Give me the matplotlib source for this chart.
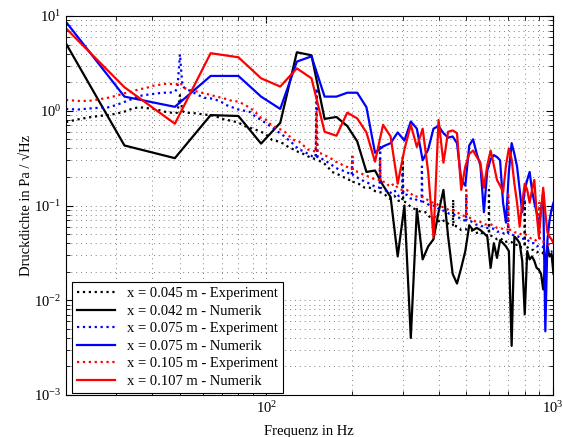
import numpy as np
import matplotlib
matplotlib.use("Agg")
import matplotlib.pyplot as plt

plt.rcParams["font.family"] = ["Liberation Serif", "DejaVu Serif"]
plt.rcParams["mathtext.fontset"] = "stix"
plt.rcParams["font.size"] = 10.5

# numerical results, 16 Hz bin spacing
f_num = 16 * np.arange(1, 64)
num_042 = [16.6, 0.43, 0.316, 0.9, 0.88, 0.45, 0.745, 4.14, 3.85, 0.82,
           0.86, 0.69, 0.475, 0.226, 0.234, 0.163, 0.123, 0.029, 0.1, 0.004,
           0.092, 0.027, 0.037, 0.044, 0.085, 0.146, 0.047, 0.019, 0.015, 0.022,
           0.033, 0.062, 0.055, 0.058, 0.055, 0.051, 0.047, 0.022, 0.04, 0.028,
           0.043, 0.04, 0.037, 0.033, 0.0033, 0.047, 0.044, 0.04, 0.026, 0.0071,
           0.033, 0.027, 0.029, 0.026, 0.022, 0.021, 0.019, 0.013, 0.026, 0.037,
           0.029, 0.031, 0.019]
num_075 = [20.5, 1.41, 1.1, 2.33, 2.33, 1.41, 1.045, 3.3, 3.75, 1.41,
           1.41, 1.55, 1.55, 1.09, 0.36, 0.42, 0.455, 0.59, 0.485, 0.77,
           0.647, 0.3, 0.39, 0.647, 0.69, 0.58, 0.52, 0.535, 0.455, 0.186,
           0.162, 0.43, 0.5, 0.35, 0.266, 0.085, 0.234, 0.308, 0.34, 0.325,
           0.3, 0.107, 0.066, 0.226, 0.455, 0.35, 0.258, 0.146, 0.085, 0.146,
           0.186, 0.226, 0.146, 0.107, 0.085, 0.06, 0.092, 0.138, 0.0047, 0.043,
           0.069, 0.09, 0.107]
num_107 = [14.6, 1.77, 0.73, 4.05, 3.67, 2.2, 1.8, 2.8, 2.2, 0.6,
           0.545, 0.955, 0.83, 0.59, 0.29, 0.71, 0.535, 0.17, 0.39, 0.71,
           0.415, 0.647, 0.226, 0.046, 0.8, 0.283, 0.6, 0.62, 0.58, 0.146,
           0.258, 0.35, 0.38, 0.325, 0.283, 0.154, 0.266, 0.38, 0.266, 0.186,
           0.162, 0.138, 0.266, 0.4, 0.308, 0.17, 0.107, 0.06, 0.107, 0.17,
           0.146, 0.107, 0.146, 0.186, 0.085, 0.047, 0.085, 0.154, 0.085, 0.052,
           0.047, 0.044, 0.04]

# measured spectra
f_exp = [20, 22, 24, 26, 28, 30, 32, 34, 36, 38, 40, 42, 44, 46, 48,
         49, 50, 51, 52,
         55, 58, 61, 64, 67, 70, 73, 76,
         80, 84, 88, 92, 96, 100,
         105, 110, 115, 120, 125, 130, 135, 140, 145,
         149, 150, 151,
         155, 160, 165, 170, 175, 180, 185, 190, 195,
         199, 200, 201,
         210, 220, 230, 240,
         249, 250, 251,
         260, 270, 280, 290,
         299, 300, 301,
         310, 320, 330, 340,
         349, 350, 351,
         360, 375, 390, 405, 420, 435,
         449, 450, 451,
         465, 480,
         499, 500, 501,
         520, 540, 560, 580,
         599, 600, 601,
         620, 640, 660, 680,
         699, 700, 701,
         720, 740, 760, 780,
         799, 800, 801,
         820, 840, 860, 880,
         899, 900, 901,
         920, 940, 960, 980, 1000]
exp_045 = [0.76, 0.81, 0.85, 0.88, 0.9, 0.93, 0.98, 1.05, 1.09, 1.07, 1.05, 1.02, 0.98, 0.96, 0.94,
           0.96, 1.46, 1.0, 0.95,
           0.95, 0.93, 0.91, 0.9, 0.87, 0.82, 0.8, 0.78,
           0.75, 0.69, 0.66, 0.63, 0.6, 0.56,
           0.49, 0.475, 0.45, 0.41, 0.39, 0.365, 0.35, 0.33, 0.316,
           0.308, 0.735, 0.308,
           0.29, 0.275, 0.25, 0.226, 0.218, 0.21, 0.2, 0.195, 0.186,
           0.186, 0.186, 0.178,
           0.17, 0.155, 0.154, 0.142,
           0.138, 0.138, 0.138,
           0.13, 0.118, 0.127, 0.112,
           0.111, 0.325, 0.111,
           0.107, 0.096, 0.092, 0.088,
           0.085, 0.085, 0.085,
           0.085, 0.074, 0.075, 0.066, 0.07, 0.063,
           0.062, 0.115, 0.062,
           0.06, 0.055,
           0.056, 0.056, 0.056,
           0.055, 0.051, 0.053, 0.048,
           0.049, 0.146, 0.049,
           0.047, 0.044, 0.045, 0.041,
           0.042, 0.042, 0.042,
           0.041, 0.038, 0.039, 0.036,
           0.037, 0.115, 0.037,
           0.036, 0.034, 0.034, 0.032,
           0.033, 0.033, 0.033,
           0.032, 0.03, 0.031, 0.029, 0.029]
exp_075 = [1.045, 1.03, 1.055, 1.075, 1.085, 1.15, 1.24, 1.33, 1.43, 1.47, 1.5, 1.53, 1.55, 1.55, 1.59,
           1.73, 3.94, 1.83, 1.73,
           1.59, 1.46, 1.37, 1.35, 1.3, 1.23, 1.14, 1.09,
           1.03, 1.0, 0.97, 0.86, 0.8, 0.735,
           0.665, 0.6, 0.545, 0.49, 0.44, 0.39, 0.375, 0.35, 0.33,
           0.325, 1.73, 0.325,
           0.316, 0.3, 0.283, 0.266, 0.25, 0.24, 0.234, 0.226, 0.218,
           0.21, 0.308, 0.21,
           0.194, 0.18, 0.17, 0.158,
           0.154, 0.415, 0.154,
           0.146, 0.134, 0.146, 0.126,
           0.13, 0.226, 0.13,
           0.13, 0.118, 0.119, 0.11,
           0.111, 0.258, 0.111,
           0.107, 0.099, 0.1, 0.089, 0.088, 0.082,
           0.081, 0.081, 0.081,
           0.077, 0.071,
           0.069, 0.13, 0.069,
           0.068, 0.063, 0.062, 0.058,
           0.058, 0.058, 0.058,
           0.057, 0.053, 0.053, 0.05,
           0.051, 0.123, 0.051,
           0.05, 0.047, 0.047, 0.044,
           0.045, 0.045, 0.045,
           0.043, 0.04, 0.04, 0.037,
           0.038, 0.038, 0.038,
           0.037, 0.035, 0.035, 0.032, 0.033]
exp_105 = [1.3, 1.27, 1.27, 1.32, 1.37, 1.44, 1.53, 1.59, 1.69, 1.73, 1.83, 1.87, 1.92, 1.92, 1.92,
           1.92, 2.0, 1.83, 1.73,
           1.63, 1.59, 1.52, 1.47, 1.41, 1.37, 1.32, 1.27,
           1.25, 1.16, 1.07, 0.955, 0.84, 0.8,
           0.69, 0.647, 0.62, 0.545, 0.49, 0.475, 0.43, 0.39, 0.38,
           0.37, 1.0, 0.36,
           0.355, 0.34, 0.325, 0.308, 0.29, 0.283, 0.266, 0.258, 0.25,
           0.242, 0.35, 0.234,
           0.226, 0.21, 0.2, 0.188,
           0.186, 0.308, 0.178,
           0.178, 0.158, 0.17, 0.15,
           0.146, 0.146, 0.146,
           0.146, 0.134, 0.123, 0.126,
           0.123, 0.123, 0.123,
           0.119, 0.108, 0.107, 0.097, 0.096, 0.089,
           0.088, 0.088, 0.088,
           0.085, 0.079,
           0.077, 0.146, 0.077,
           0.073, 0.067, 0.067, 0.063,
           0.064, 0.064, 0.064,
           0.062, 0.058, 0.058, 0.055,
           0.056, 0.138, 0.056,
           0.055, 0.052, 0.052, 0.049,
           0.05, 0.05, 0.05,
           0.048, 0.045, 0.045, 0.042,
           0.044, 0.107, 0.044,
           0.042, 0.041, 0.04, 0.038, 0.037]

fig = plt.figure(figsize=(5.63, 4.37), dpi=100)
ax = fig.add_axes([66 / 563, 1 - 395 / 437, 486.5 / 563, 379 / 437])

lw = 1.6
ax.loglog(f_exp, exp_045, ":", color="k", lw=lw, label="x = 0.045 m - Experiment")
ax.loglog(f_num, num_042, "-", color="k", lw=lw, label="x = 0.042 m - Numerik")
ax.loglog(f_exp, exp_075, ":", color="b", lw=lw, label="x = 0.075 m - Experiment")
ax.loglog(f_num, num_075, "-", color="b", lw=lw, label="x = 0.075 m - Numerik")
ax.loglog(f_exp, exp_105, ":", color="r", lw=lw, label="x = 0.105 m - Experiment")
ax.loglog(f_num, num_107, "-", color="r", lw=lw, label="x = 0.107 m - Numerik")

ax.set_xlim(20, 1000)
ax.set_ylim(1e-3, 1e1)
ax.grid(True, which="both", linestyle=(0, (1, 4)), color="0.5", linewidth=0.7)
ax.tick_params(which="both", direction="in", top=True, right=True)
ax.tick_params(which="major", length=5)
ax.tick_params(which="minor", length=3)

ax.set_xlabel("Frequenz in Hz", labelpad=7)
ax.set_ylabel("Druckdichte in Pa / \u221aHz", labelpad=1)

leg = ax.legend(loc="lower left", bbox_to_anchor=(0.012, 0.005), borderaxespad=0,
                fancybox=False, framealpha=1, edgecolor="k", handlelength=2.6,
                labelspacing=0.3, borderpad=0.35)
leg.get_frame().set_linewidth(0.8)

fig.savefig("out.png", dpi=100)
